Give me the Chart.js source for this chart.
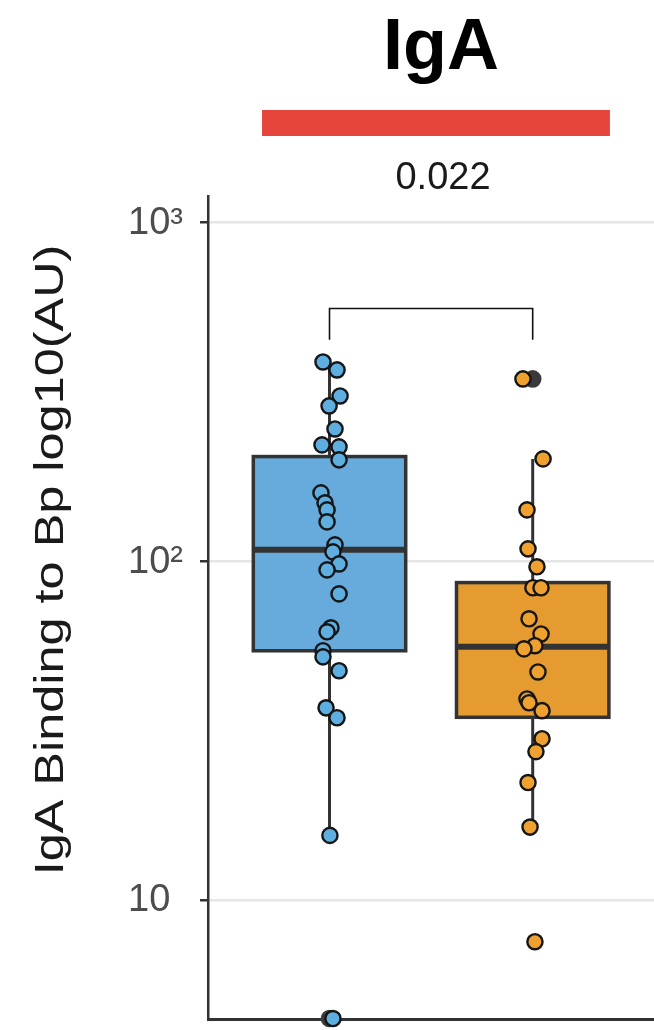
<!DOCTYPE html>
<html>
<head>
<meta charset="utf-8">
<script src="https://cdn.jsdelivr.net/npm/chart.js@4.4.0/dist/chart.umd.min.js"></script>
<style>
  html, body { margin: 0; padding: 0; background: #ffffff; overflow: hidden; }
  #wrap { width: 654px; height: 1030px; overflow: hidden; }
</style>
</head>
<body>
<div id="wrap"><canvas id="boxChart" width="664" height="1030"></canvas></div>
<script>
// --- Data ---
const groupPositions = [1, 2];
const groupFills = ['#66abdc', '#e59b30'];
const pointFills = ['#5eaee0', '#eea12f'];

// box statistics (AU)
const boxQ1 = [54.4, 34.6];
const boxMedian = [108.1, 55.9];
const boxQ3 = [203.8, 86.5];
const whiskerLow = [15.5, 16.4];
const whiskerHigh = [387.8, 200.6];

// individual samples, with the horizontal jitter
const blueValues = [387.8, 367.4, 307.8, 287.6, 245.9, 220.7, 217.7, 199.3, 159.2, 148.8, 141.8, 130.7, 111.8,
    106.6, 98.2, 94.3, 80.1, 63.6, 61.9, 54.4, 52.2, 47.5, 36.9, 34.5, 15.5, 4.46];
const blueJitter = [0.968, 1.037, 1.052, 0.998, 1.027, 0.963, 1.047, 1.047, 0.958, 0.978, 0.988, 0.988, 1.027,
    1.017, 1.047, 0.988, 1.047, 1.007, 0.988, 0.968, 0.968, 1.047, 0.983, 1.037, 1.002, 1.017];
const orangeValues = [345.6, 200.6, 141.8, 108.8, 96.3, 83.5, 83.5, 67.6, 61.0, 56.3, 55.1, 47.1, 39.2, 38.2,
    36.2, 29.9, 27.4, 22.2, 16.4, 7.52];
const orangeJitter = [1.952, 2.051, 1.972, 1.977, 2.021, 2.001, 2.041, 1.982, 2.041, 2.011, 1.957, 2.026, 1.972,
    1.982, 2.046, 2.046, 2.016, 1.977, 1.987, 2.011];
const outlierValues = [4.46, 345.6];
const outlierPositions = [1.0, 2.0];

// significance bracket
const pValueText = '0.022';
const bracketTop = 558;
const bracketLeg = 451;

// axis
const tickValues = [10, 100, 1000];
const tickLabels = ['10', '10²', '10³'];
const titleText = 'IgA';
const yAxisTitle = 'IgA Binding to Bp log10(AU)';

const FONT = '"Liberation Sans", Arial, Helvetica, sans-serif';
const DARK = '#333333';

const toPoints = (xs, ys) => ys.map((v, i) => ({ x: xs[i], y: v }));

// --- Box, whisker, bracket and header drawing ---
const boxPlugin = {
    id: 'boxPlugin',
    beforeDatasetsDraw(chart) {
        const { ctx, scales: { x, y } } = chart;
        const half = 0.375;
        ctx.save();
        groupPositions.forEach((pos, i) => {
            const cx = x.getPixelForValue(pos);
            // whisker
            ctx.strokeStyle = DARK;
            ctx.lineWidth = 3;
            ctx.beginPath();
            ctx.moveTo(cx, y.getPixelForValue(whiskerLow[i]));
            ctx.lineTo(cx, y.getPixelForValue(whiskerHigh[i]));
            ctx.stroke();
            // box
            const left = x.getPixelForValue(pos - half);
            const right = x.getPixelForValue(pos + half);
            const top = y.getPixelForValue(boxQ3[i]);
            const bottom = y.getPixelForValue(boxQ1[i]);
            ctx.fillStyle = groupFills[i];
            ctx.fillRect(left, top, right - left, bottom - top);
            ctx.lineWidth = 3.5;
            ctx.strokeRect(left, top, right - left, bottom - top);
            // median
            const my = y.getPixelForValue(boxMedian[i]);
            ctx.lineWidth = 6;
            ctx.beginPath();
            ctx.moveTo(left, my);
            ctx.lineTo(right, my);
            ctx.stroke();
        });
        // bracket
        const bx1 = x.getPixelForValue(groupPositions[0]);
        const bx2 = x.getPixelForValue(groupPositions[1]);
        const by = y.getPixelForValue(bracketTop);
        const bl = y.getPixelForValue(bracketLeg);
        ctx.strokeStyle = '#111';
        ctx.lineWidth = 1.6;
        ctx.beginPath();
        ctx.moveTo(bx1, bl);
        ctx.lineTo(bx1, by);
        ctx.lineTo(bx2, by);
        ctx.lineTo(bx2, bl);
        ctx.stroke();
        ctx.restore();
    },
    afterDraw(chart) {
        const { ctx, chartArea, scales: { x, y } } = chart;
        ctx.save();
        // y tick labels, left aligned like the source
        ctx.fillStyle = '#4d4d4d';
        ctx.font = `38px ${FONT}`;
        ctx.textAlign = 'left';
        ctx.textBaseline = 'middle';
        tickValues.forEach((v, i) => {
            ctx.fillText(tickLabels[i], chartArea.left - 80, y.getPixelForValue(v) + 1);
        });
        // title
        ctx.fillStyle = '#000';
        ctx.textAlign = 'center';
        ctx.textBaseline = 'alphabetic';
        ctx.font = `bold 72px ${FONT}`;
        ctx.fillText(titleText, 441, 69);
        // red significance bar
        const rl = x.getPixelForValue(0.668);
        const rr = x.getPixelForValue(2.38);
        ctx.fillStyle = '#e4443a';
        ctx.fillRect(rl, 110, rr - rl, 26);
        // p value
        ctx.fillStyle = '#1a1a1a';
        ctx.font = `38px ${FONT}`;
        ctx.fillText(pValueText, 443, 189);
        // y axis title (rotated)
        ctx.translate(63, 560);
        ctx.rotate(-Math.PI / 2);
        ctx.scale(1.23, 1);
        ctx.font = `41px ${FONT}`;
        ctx.fillStyle = '#1a1a1a';
        ctx.fillText(yAxisTitle, 0, 0);
        ctx.restore();
    }
};

const pointStyle = (fill) => ({
    type: 'scatter',
    backgroundColor: fill,
    borderColor: '#151515',
    borderWidth: 2.4,
    pointRadius: 7.6,
    pointHoverRadius: 7.6,
    clip: false
});

new Chart(document.getElementById('boxChart').getContext('2d'), {
    type: 'scatter',
    data: {
        datasets: [
            { ...pointStyle(pointFills[0]), label: 'blue', data: toPoints(blueJitter, blueValues) },
            { ...pointStyle(pointFills[1]), label: 'orange', data: toPoints(orangeJitter, orangeValues) },
            { ...pointStyle('#3a3a3a'), label: 'outliers', data: toPoints(outlierPositions, outlierValues), borderColor: '#3a3a3a' }
        ]
    },
    options: {
        responsive: false,
        animation: false,
        layout: { padding: { top: 196, left: 0, right: 0, bottom: 11 } },
        plugins: { legend: { display: false }, tooltip: { enabled: false }, title: { display: false } },
        scales: {
            x: {
                type: 'linear',
                min: 0.402,
                max: 2.597,
                grid: { display: false },
                ticks: { display: false },
                border: { display: true, color: DARK, width: 3 },
                afterFit: (scale) => { scale.height = 0; }
            },
            y: {
                type: 'logarithmic',
                min: 4.446,
                max: 1199,
                afterBuildTicks: (scale) => { scale.ticks = tickValues.map(v => ({ value: v })); },
                afterFit: (scale) => { scale.width = 208; },
                ticks: { display: false },
                grid: { color: '#e6e6e6', lineWidth: 2.5, tickColor: DARK, tickLength: 8, tickWidth: 2.5 },
                border: { display: true, color: DARK, width: 2.5 }
            }
        }
    },
    plugins: [boxPlugin]
});
</script>
</body>
</html>
